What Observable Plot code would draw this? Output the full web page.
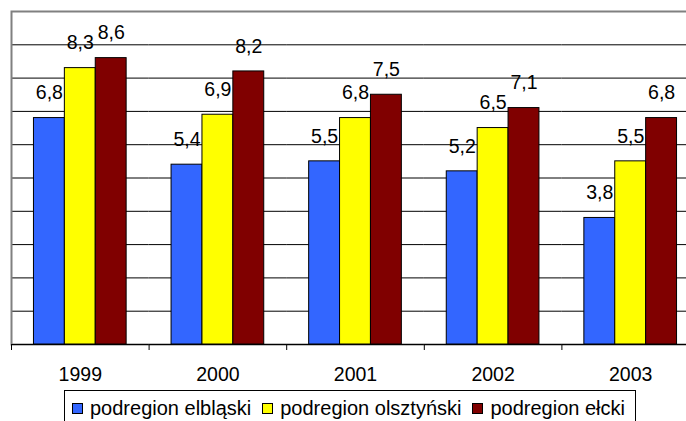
<!DOCTYPE html>
<html>
<head>
<meta charset="utf-8">
<script src="https://cdn.jsdelivr.net/npm/d3@7"></script>
<script src="https://cdn.jsdelivr.net/npm/@observablehq/plot@0.6"></script>
<style>
  html, body { margin: 0; padding: 0; background: #fff; overflow: hidden; }
  body { position: relative; width: 686px; height: 421px; font-family: "Liberation Sans", Arial, sans-serif; }
  #legend {
    position: absolute; left: 64px; top: 390px; width: 572px; height: 40px;
    border: 1px solid #000; background: #fff; box-sizing: border-box;
    display: flex; align-items: flex-start; padding: 6px 0 0 7px;
    font-size: 20px; color: #000; white-space: nowrap;
  }
  .item { display: flex; align-items: center; margin-right: 11px; }
  .sw { width: 11px; height: 11px; border: 1px solid #000; box-sizing: border-box; margin-right: 7px; }
</style>
</head>
<body>
<div id="chart"></div>
<div id="legend"></div>
<script>
const years = ["1999", "2000", "2001", "2002", "2003"];
const series = ["podregion elbląski", "podregion olsztyński", "podregion ełcki"];
const elblaski = [6.8, 5.4, 5.5, 5.2, 3.8];
const olsztynski = [8.3, 6.9, 6.8, 6.5, 5.5];
const elcki = [8.6, 8.2, 7.5, 7.1, 6.8];
const colors = ["#3366FF", "#FFFF00", "#800000"];
const gridTicks = [1, 2, 3, 4, 5, 6, 7, 8, 9];

const valuesBySeries = [elblaski, olsztynski, elcki];
const data = years.flatMap((yr, i) =>
  series.map((s, j) => ({year: yr, series: s, value: valuesBySeries[j][i]}))
);
const fmt = v => v.toFixed(1).replace(".", ",");

const chart = Plot.plot({
  width: 686,
  height: 421,
  marginTop: 11,
  marginLeft: 11,
  marginRight: -13,
  marginBottom: 77,
  style: {fontFamily: '"Liberation Sans", Arial, sans-serif', fontSize: "19.5px", color: "#000", background: "#fff", overflow: "hidden"},
  fx: {domain: years, padding: 0, round: false, label: null},
  x: {domain: series, paddingInner: 0, paddingOuter: 0.727, round: false, axis: null},
  y: {domain: [0, 10], axis: null},
  color: {domain: series, range: colors},
  marks: [
    Plot.ruleY(gridTicks, {stroke: "#000", strokeWidth: 1}),
    Plot.frame({facet: "super", stroke: "#808080", strokeWidth: 2}),
    Plot.barY(data, {fx: "year", x: "series", y: "value", fill: "series", stroke: "#000", strokeWidth: 1}),
    Plot.text(data, {fx: "year", x: "series", y: "value", text: d => fmt(d.value), dy: -25, fill: "#000", fontSize: 19.5}),
    Plot.ruleY([0], {stroke: "#000", strokeWidth: 1}),
    Plot.axisFx({anchor: "bottom", tickSize: 0, tickPadding: 23, fontSize: 19.5, label: null, fill: "#000"}),
    Plot.axisFx({anchor: "bottom", tickSize: 6, tickFormat: () => "", dx: -68.8, label: null, stroke: "#000"})
  ]
});
document.getElementById("chart").appendChild(chart);

const legend = document.getElementById("legend");
series.forEach((s, i) => {
  const item = document.createElement("div");
  item.className = "item";
  const sw = document.createElement("div");
  sw.className = "sw";
  sw.style.background = colors[i];
  const t = document.createElement("span");
  t.textContent = s;
  item.appendChild(sw);
  item.appendChild(t);
  legend.appendChild(item);
});
</script>
</body>
</html>
